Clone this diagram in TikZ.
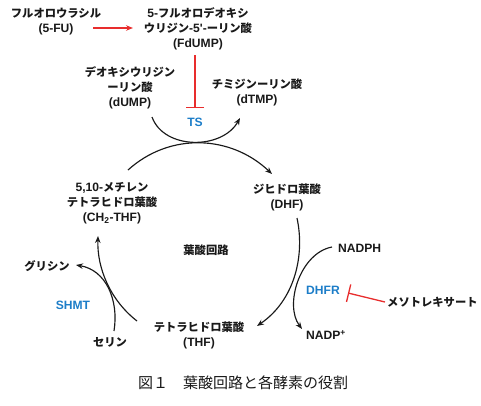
\documentclass[tikz,border=0pt]{standalone}
\usepackage{fontspec}
\setmainfont{Noto Sans CJK JP}
\newfontfamily\lat[Scale=1.07,UprightFont={* Bold},BoldFont={* Bold}]{Liberation Sans}
\usetikzlibrary{arrows.meta}
\definecolor{inkblue}{RGB}{28,125,200}
\definecolor{inkred}{RGB}{232,45,45}
\definecolor{inkblack}{RGB}{25,25,25}
\begin{document}
\begin{tikzpicture}[x=1pt,y=-1pt,
  lbl/.style={align=center,inner sep=0pt,text=inkblack,font=\fontsize{11.3}{15}\selectfont\bfseries},
  enz/.style={inner sep=0pt,text=inkblue,font=\fontsize{11.3}{15}\selectfont\lat},
  flow/.style={draw=inkblack,line width=1.15pt,-{Stealth[length=7pt,width=5.5pt]}},
  redflow/.style={draw=inkred,line width=1.3pt,-{Stealth[length=7pt,width=5.5pt]}},
  inhib/.style={draw=inkred,line width=1.3pt,-{Bar[width=18pt,line width=1.3pt]}}]
\useasboundingbox (0,0) rectangle (481,405);
% labels
\node[lbl] (fu) at (56,22) {フルオロウラシル\\{\lat(5-FU)}};
\node[lbl] (fdump) at (198,29) {{\lat 5-}フルオロデオキシ\\ウリジン{\lat-5'-}ーリン酸\\{\lat(FdUMP)}};
\node[lbl] (dump) at (130,88) {デオキシウリジン\\ーリン酸\\{\lat(dUMP)}};
\node[lbl] (dtmp) at (257,92.5) {チミジンーリン酸\\{\lat(dTMP)}};
\node[enz] (ts) at (195,122) {TS};
\node[lbl] (ch2) at (112,203.5) {{\lat 5,10-}メチレン\\テトラヒドロ葉酸\\{\lat(CH\textsubscript{2}-THF)}};
\node[lbl] (dhf) at (287,197.5) {ジヒドロ葉酸\\{\lat(DHF)}};
\node[lbl] (cycle) at (206,250) {葉酸回路};
\node[lbl,anchor=west] (nadph) at (338,248) {\lat NADPH};
\node[enz] (dhfr) at (323,290) {DHFR};
\node[lbl,anchor=west] (mtx) at (387,302) {メソトレキサート};
\node[lbl] (nadp) at (326,335) {\lat NADP\textsuperscript{+}};
\node[lbl] (thf) at (199,335.5) {テトラヒドロ葉酸\\{\lat(THF)}};
\node[lbl] (gly) at (47,266) {グリシン};
\node[enz] (shmt) at (73,305) {SHMT};
\node[lbl] (ser) at (110,342) {セリン};
\node[inner sep=0pt,text=inkblack,font=\fontsize{15}{18}\selectfont] (cap) at (243,383) {図１　葉酸回路と各酵素の役割};
% coordinates
\coordinate (fuR) at (93,28);
\coordinate (fdL) at (133,28);
\coordinate (fdB) at (195,55);
\coordinate (tsT) at (195,108);
\coordinate (a1) at (152,117);
\coordinate (a2) at (240,118);
\coordinate (b1) at (128,170);
\coordinate (b2) at (272,174);
\coordinate (c1) at (297,218);
\coordinate (c2) at (257,326);
\coordinate (d1) at (332,247);
\coordinate (d2) at (302,329);
\coordinate (e1) at (137,321);
\coordinate (e2) at (98,236);
\coordinate (f1) at (114,331);
\coordinate (f2) at (76,265);
\coordinate (m1) at (385,302);
\coordinate (m2) at (348,293);
% connectors
\draw[redflow] (fuR) -- (fdL);
\draw[inhib] (fdB) -- (tsT);
\draw[flow] (a1) .. controls (164,150) and (222,150) .. (a2);
\draw[flow] (b1) .. controls (170,132) and (231,135) .. (b2);
\draw[flow] (c1) .. controls (305,255) and (295,300) .. (c2);
\draw[flow] (d1) .. controls (300,253) and (284,305) .. (d2);
\draw[flow] (e1) .. controls (110,300) and (97,268) .. (e2);
\draw[flow] (f1) .. controls (119,300) and (106,270) .. (f2);
\draw[inhib] (m1) -- (m2);
\end{tikzpicture}
\end{document}
